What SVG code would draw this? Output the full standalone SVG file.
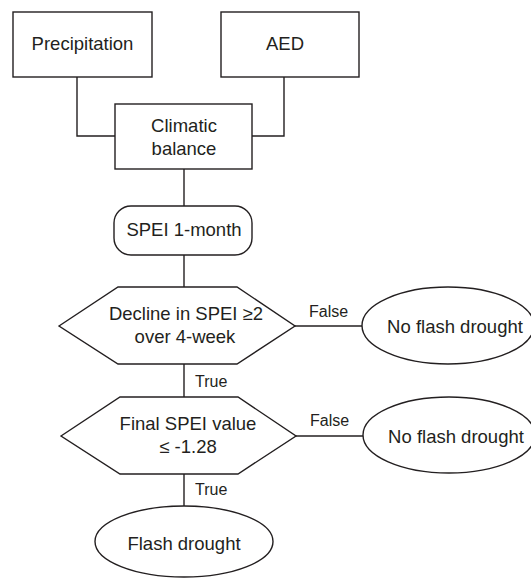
<svg xmlns="http://www.w3.org/2000/svg" width="531" height="579" viewBox="0 0 531 579">
<style>
.s{fill:#ffffff;stroke:#231f20;stroke-width:1.4}
.c{fill:none;stroke:#231f20;stroke-width:1.4}
text{font-family:"Liberation Sans",Arial,sans-serif;font-size:18.5px;fill:#231f20;text-anchor:middle}
.l{font-size:16px;text-anchor:start}
</style>
<rect width="531" height="579" fill="#ffffff"/>
<g id="connectors">
<polyline class="c" points="77,77 77,136 115,136"/>
<polyline class="c" points="284,77 284,136 252,136"/>
<line class="c" x1="184" y1="169" x2="184" y2="206"/>
<line class="c" x1="184" y1="255" x2="184" y2="287"/>
<line class="c" x1="184" y1="364" x2="184" y2="397"/>
<line class="c" x1="184" y1="474" x2="184" y2="506"/>
<line class="c" x1="295" y1="326" x2="362" y2="326"/>
<line class="c" x1="296" y1="436" x2="363" y2="436"/>
<text class="l" x="309" y="317">False</text>
<text class="l" x="310" y="426">False</text>
<text class="l" x="195" y="387">True</text>
<text class="l" x="195" y="495">True</text>
</g>
<g id="precipitation">
<rect class="s" x="13" y="12" width="139" height="65"/>
<text x="82.5" y="50">Precipitation</text>
</g>
<g id="aed">
<rect class="s" x="221" y="12" width="138" height="65"/>
<text x="285" y="50">AED</text>
</g>
<g id="climatic-balance">
<rect class="s" x="115" y="104" width="137" height="65"/>
<text x="184" y="132">Climatic</text>
<text x="184" y="155">balance</text>
</g>
<g id="spei">
<rect class="s" x="114" y="206" width="138" height="49" rx="17" ry="17"/>
<text x="184" y="236">SPEI 1-month</text>
</g>
<g id="decline">
<polygon class="s" points="59,326 118,287 237,287 295,326 237,364 118,364"/>
<text x="186" y="320">Decline in SPEI ≥2</text>
<text x="185" y="343">over 4-week</text>
</g>
<g id="final">
<polygon class="s" points="61,436 120,397 238,397 296,436 238,474 120,474"/>
<text x="188" y="430">Final SPEI value</text>
<text x="188" y="453">≤ -1.28</text>
</g>
<g id="no-flash-1">
<ellipse class="s" cx="448" cy="325.5" rx="86" ry="38.5"/>
<text x="455" y="333">No flash drought</text>
</g>
<g id="no-flash-2">
<ellipse class="s" cx="449" cy="435" rx="86" ry="38"/>
<text x="456" y="443">No flash drought</text>
</g>
<g id="flash">
<ellipse class="s" cx="184" cy="541.5" rx="89" ry="35.5"/>
<text x="184" y="550">Flash drought</text>
</g>
</svg>
